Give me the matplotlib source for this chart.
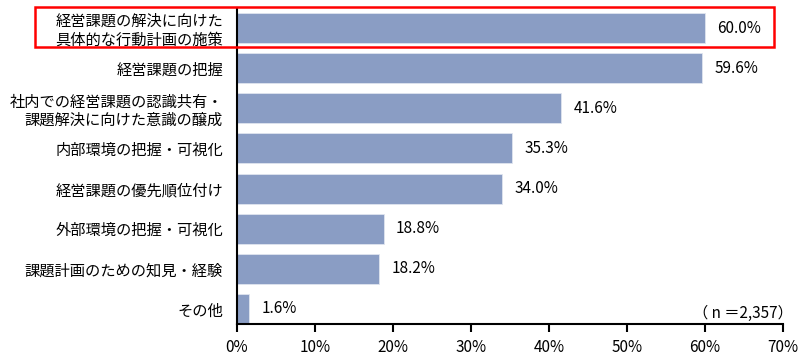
import matplotlib
matplotlib.use("Agg")
import matplotlib.pyplot as plt
from matplotlib.patches import Rectangle

plt.rcParams['font.family'] = ['Noto Sans CJK JP', 'DejaVu Sans']

labels = ["経営課題の解決に向けた\n具体的な行動計画の施策",
          "経営課題の把握",
          "社内での経営課題の認識共有・\n課題解決に向けた意識の醸成",
          "内部環境の把握・可視化",
          "経営課題の優先順位付け",
          "外部環境の把握・可視化",
          "課題計画のための知見・経験",
          "その他"]
values = [60.0, 59.6, 41.6, 35.3, 34.0, 18.8, 18.2, 1.6]
xticks = [0, 10, 20, 30, 40, 50, 60, 70]

fig = plt.figure(figsize=(8, 3.6), dpi=100)
ax = fig.add_axes([237 / 800, 0.1, 546 / 800, 316 / 360])

y = list(range(len(values)))
ax.barh(y, values, height=0.75, color="#8a9dc4", edgecolor="#dfe4ef", linewidth=0.6)
for i, v in enumerate(values):
    ax.text(v + 1.6, i, f"{v:.1f}%", va="center", ha="left", fontsize=11)

ax.set_xlim(0, 70)
ax.set_ylim(7.375, -0.5)
ax.set_xticks(xticks)
ax.set_xticklabels([f"{t}%" for t in xticks], fontsize=11)
ax.set_yticks(y)
ax.set_yticklabels(labels, fontsize=11, linespacing=1.1)
ax.tick_params(axis="y", length=0, pad=10)
ax.tick_params(axis="x", direction="out", length=6, width=1.5, pad=5)
ax.spines["top"].set_visible(False)
ax.spines["right"].set_visible(False)
ax.spines["left"].set_linewidth(1.5)
ax.spines["bottom"].set_linewidth(1.5)

ax.text(793 / 800, 1 - 313 / 360, "（ n ＝2,357）", transform=fig.transFigure,
        ha="right", va="center", fontsize=11)

# red highlight box around the first item
box = Rectangle((35 / 800, 1 - 47 / 360), 739 / 800, 40 / 360, transform=fig.transFigure,
                fill=False, edgecolor="#ff0000", linewidth=1.8, clip_on=False)
fig.patches.append(box)

fig.savefig("out.png", dpi=100)
